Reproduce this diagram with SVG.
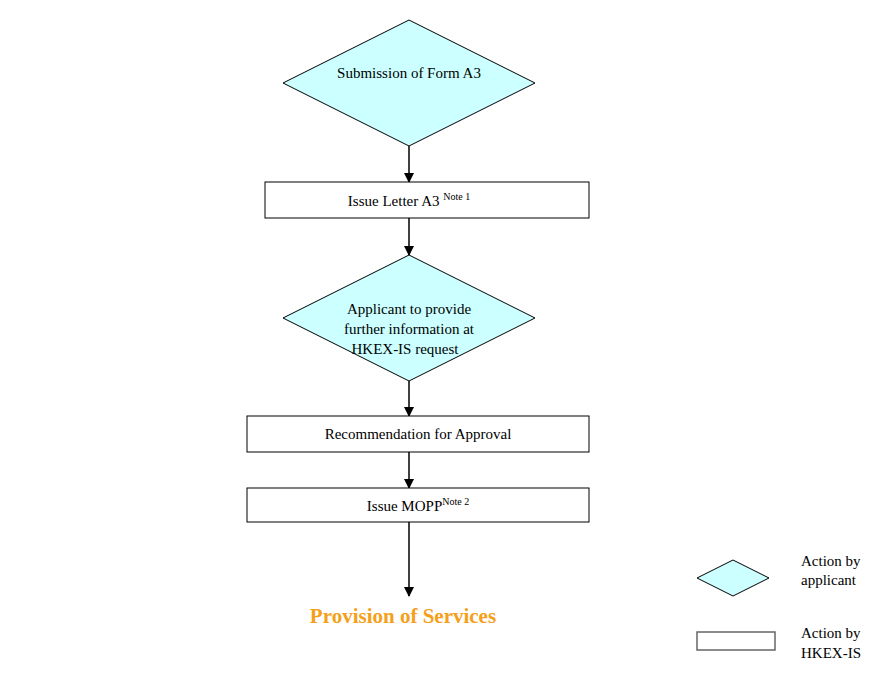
<svg xmlns="http://www.w3.org/2000/svg" width="887" height="685" viewBox="0 0 887 685">
<style>
text{font-family:"Liberation Serif",serif;font-size:15px;fill:#000}
.d{fill:#ccffff;stroke:#000;stroke-width:1}
.r{fill:#fff;stroke:#000;stroke-width:1}
.c{stroke:#000;stroke-width:1.5;fill:none;marker-end:url(#a)}
.sup{font-size:10px}
</style>
<defs><marker id="a" markerWidth="10" markerHeight="10" refX="9" refY="5" orient="auto" markerUnits="userSpaceOnUse"><path d="M0,0L10,5L0,10Z" fill="#000"/></marker></defs>
<rect width="887" height="685" fill="#fff"/>
<g id="connectors">
<path class="c" d="M409,146V182"/>
<path class="c" d="M409,218V255"/>
<path class="c" d="M409,381V416"/>
<path class="c" d="M409,452V488"/>
<path class="c" d="M409,522V596"/>
</g>
<g id="n1"><polygon class="d" points="409,20 535,83 409,146 283,83"/><text x="409" y="78" text-anchor="middle">Submission of Form A3</text></g>
<g id="n2"><rect class="r" x="265" y="182" width="324" height="36"/><text x="409" y="206" text-anchor="middle">Issue Letter A3 <tspan class="sup" dy="-6">Note 1</tspan></text></g>
<g id="n3"><polygon class="d" points="409,255 535,318 409,381 283,318"/><text x="409" y="314" text-anchor="middle">Applicant to provide</text><text x="409" y="334" text-anchor="middle">further information at</text><text x="405" y="354" text-anchor="middle">HKEX-IS request</text></g>
<g id="n4"><rect class="r" x="247" y="416" width="342" height="36"/><text x="418" y="439" text-anchor="middle">Recommendation for Approval</text></g>
<g id="n5"><rect class="r" x="247" y="488" width="342" height="34"/><text x="418" y="511" text-anchor="middle">Issue MOPP<tspan class="sup" dy="-6">Note 2</tspan></text></g>
<g id="n6"><text x="403" y="623" text-anchor="middle" style="font-size:21px;font-weight:bold;fill:#f5a01a">Provision of Services</text></g>
<g id="legend">
<polygon class="d" points="733,560 769,578 733,596 697,578"/>
<text x="801" y="566">Action by</text><text x="801" y="585">applicant</text>
<rect x="697" y="632" width="78" height="18" fill="#fff" stroke="#666" stroke-width="1.5"/>
<text x="801" y="638">Action by</text><text x="801" y="658">HKEX-IS</text>
</g>
</svg>
